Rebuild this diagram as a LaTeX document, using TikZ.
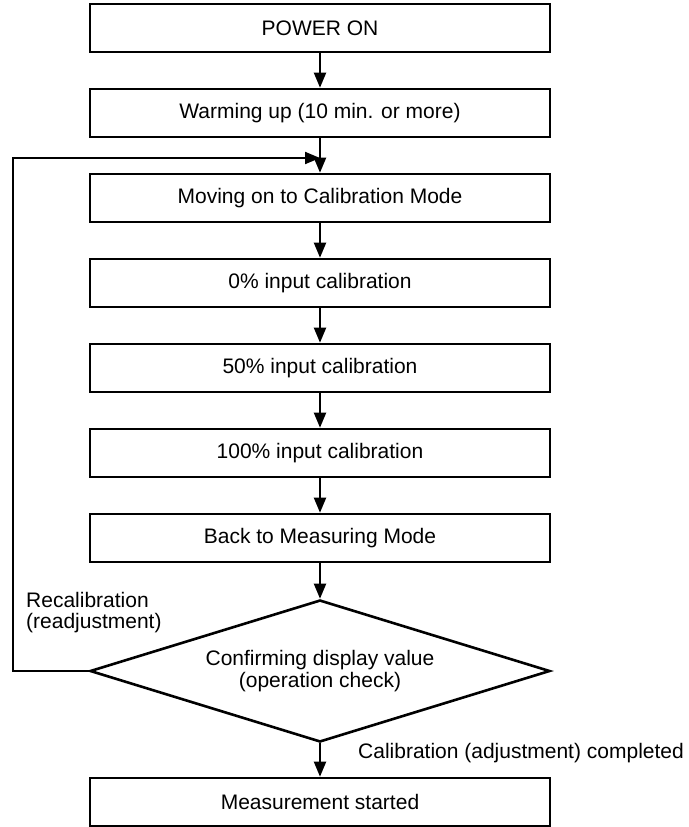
\documentclass[tikz,border=0pt]{standalone}
\usepackage{fontspec}
\setmainfont{Liberation Sans}
\usetikzlibrary{arrows.meta,shapes.geometric}
\begin{document}
\begin{tikzpicture}[x=1pt,y=-1pt,
  stepbox/.style={draw,line width=2.6pt,minimum width=460pt,minimum height=48pt,
    inner sep=0pt,font=\fontsize{21}{24}\selectfont},
  decision/.style={draw,diamond,line width=2.6pt,aspect=3.24,minimum width=460pt,
    minimum height=142pt,inner sep=0pt,align=center,font=\fontsize{21}{22}\selectfont},
  flow/.style={line width=2pt,-{Triangle[length=15pt,width=12pt]}},
  lbl/.style={inner sep=0pt,align=left,font=\fontsize{21}{21}\selectfont}]
\useasboundingbox (0,0) rectangle (688,827);

% process steps
\node[stepbox] (power) at (320,28)  {POWER ON};
\node[stepbox] (warm)  at (320,113) {Warming up (10 min. or more)};
\node[stepbox] (cal)   at (320,198) {Moving on to Calibration Mode};
\node[stepbox] (in0)   at (320,283) {0\% input calibration};
\node[stepbox] (in50)  at (320,368) {50\% input calibration};
\node[stepbox] (in100) at (320,453) {100\% input calibration};
\node[stepbox] (meas)  at (320,538) {Back to Measuring Mode};
\node[decision] (check) at (320,671) {Confirming display value\\(operation check)};
\node[stepbox] (start) at (320,802) {Measurement started};

% main flow
\draw[flow] (power) -- (warm);
\draw[flow] (warm) -- (cal);
\draw[flow] (cal) -- (in0);
\draw[flow] (in0) -- (in50);
\draw[flow] (in50) -- (in100);
\draw[flow] (in100) -- (meas);
\draw[flow] (meas) -- (check);
\draw[flow] (check) -- (start);

% recalibration loop back to the calibration step
\coordinate (corner) at (13,158);
\coordinate (rejoin) at (320,158);
\draw[flow] (check.west) -| (corner) -- (rejoin);

% branch labels
\node[lbl,anchor=west] (recal) at (26,613) {Recalibration\\(readjustment)};
\node[lbl,anchor=west] (done) at (358,753) {Calibration (adjustment) completed};
\end{tikzpicture}
\end{document}
